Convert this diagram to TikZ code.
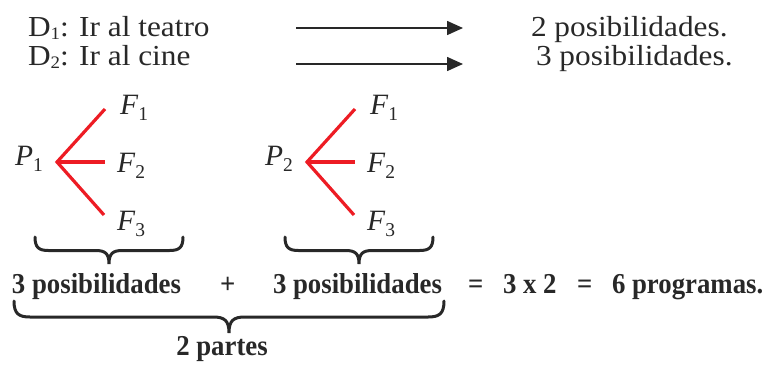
\documentclass[tikz,border=0pt]{standalone}
\usepackage{graphicx}
\usepackage{fontspec}
\setmainfont{Liberation Serif}
\usetikzlibrary{arrows.meta}
\definecolor{ink}{RGB}{40,40,40}
\definecolor{tred}{RGB}{237,28,36}
\newcommand\regtxt[1]{\scalebox{1.08}[1]{\fontsize{29}{34}\selectfont #1}}
\newcommand\sbs[1]{\raisebox{-3.5pt}{\fontsize{17.5}{17.5}\selectfont #1}}
\newcommand\itsub[2]{{\fontsize{29.5}{34}\selectfont\textit{#1}\raisebox{-6pt}{\fontsize{19.5}{19.5}\selectfont #2}}}
\newcommand\boldtxt[1]{\scalebox{0.93}[1]{\fontsize{28.8}{32}\selectfont\bfseries #1}}
\newcommand\mybrace[4]{%
  \draw[bracel] (#1,#3) .. controls (#1,{#3+#4*0.4}) and ({#1+#4*0.15},{#3+#4/2}) .. ({#1+#4/2},{#3+#4/2})
    -- ({(#1+#2)/2-#4/2},{#3+#4/2}) .. controls ({(#1+#2)/2-#4*0.15},{#3+#4/2}) and ({(#1+#2)/2},{#3+#4*0.6}) .. ({(#1+#2)/2},{#3+#4})
    .. controls ({(#1+#2)/2},{#3+#4*0.6}) and ({(#1+#2)/2+#4*0.15},{#3+#4/2}) .. ({(#1+#2)/2+#4/2},{#3+#4/2})
    -- ({#2-#4/2},{#3+#4/2}) .. controls ({#2-#4*0.15},{#3+#4/2}) and (#2,{#3+#4*0.4}) .. (#2,#3);}
\begin{document}
\begin{tikzpicture}[x=1pt,y=-1pt,
  txt/.style={inner sep=0pt, outer sep=0pt, anchor=base west, text=ink},
  arr/.style={draw=ink, line width=1.6pt, -{Triangle[length=16pt,width=14pt]}},
  redl/.style={draw=tred, line width=3.2pt},
  bracel/.style={draw=ink, line width=3pt, line cap=round}]
\useasboundingbox (0,0) rectangle (765,365);
% top lines
\node[txt] (d1) at (28,36) {\regtxt{D\sbs{1}: Ir al teatro}};
\node[txt] (d2) at (28,65) {\regtxt{D\sbs{2}: Ir al cine}};
\node[txt] (r1) at (531,36) {\regtxt{2 posibilidades.}};
\node[txt] (r2) at (536,65) {\regtxt{3 posibilidades.}};
\coordinate (a1s) at (296,28);
\coordinate (a1e) at (463,28);
\coordinate (a2s) at (296,64);
\coordinate (a2e) at (463,64);
\draw[arr] (a1s) -- (a1e);
\draw[arr] (a2s) -- (a2e);
% tree 1
\node[txt] (p1) at (15,165) {\itsub{P}{1}};
\coordinate (v1) at (57,162);
\coordinate (e11) at (105,109);
\coordinate (e12) at (105,162);
\coordinate (e13) at (104,215);
\node[txt] (f11) at (120,114) {\itsub{F}{1}};
\node[txt] (f12) at (117,172) {\itsub{F}{2}};
\node[txt] (f13) at (117,230) {\itsub{F}{3}};
\draw[redl] (e11) -- (v1) -- (e13);
\draw[redl] (v1) -- (e12);
% tree 2
\node[txt] (p2) at (265,165) {\itsub{P}{2}};
\coordinate (v2) at (307,162);
\coordinate (e21) at (355,109);
\coordinate (e22) at (355,162);
\coordinate (e23) at (354,215);
\node[txt] (f21) at (370,114) {\itsub{F}{1}};
\node[txt] (f22) at (367,172) {\itsub{F}{2}};
\node[txt] (f23) at (367,230) {\itsub{F}{3}};
\draw[redl] (e21) -- (v2) -- (e23);
\draw[redl] (v2) -- (e22);
% braces
\mybrace{35}{183}{237}{27}
\mybrace{285}{433}{237}{27}
\mybrace{14}{444}{301}{32}
% bottom row
\node[txt] (b1) at (12,293) {\boldtxt{3 posibilidades}};
\node[txt] (plus) at (220,293) {\boldtxt{+}};
\node[txt] (b2) at (273,293) {\boldtxt{3 posibilidades}};
\node[txt] (eq1) at (468,293) {\boldtxt{=}};
\node[txt] (prod) at (503,293) {\boldtxt{3 x 2}};
\node[txt] (eq2) at (577,293) {\boldtxt{=}};
\node[txt] (res) at (612,293) {\boldtxt{6 programas.}};
\node[txt, anchor=base] (parts) at (222,355) {\boldtxt{2 partes}};
\end{tikzpicture}
\end{document}
